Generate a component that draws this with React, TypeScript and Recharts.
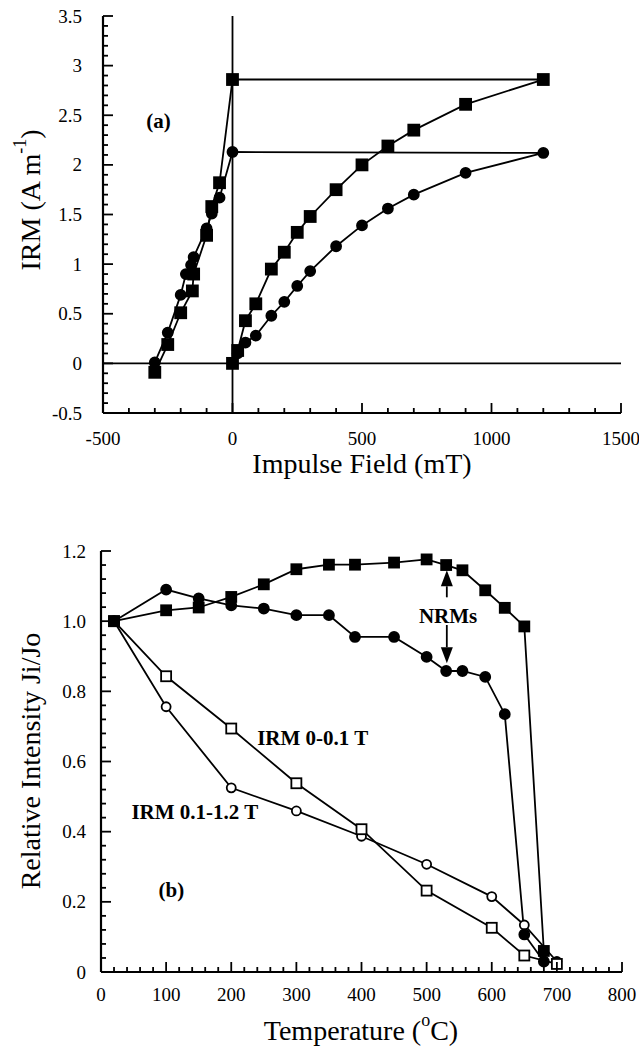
import React from 'react';
import { LineChart, Line, XAxis, YAxis, ReferenceLine, ReferenceDot } from 'recharts';

const FONT = '"Liberation Serif", "Times New Roman", Times, serif';

// (a) IRM acquisition then backfield, squares and circles
const fieldSq = [0, 20, 50, 90, 150, 200, 250, 300, 400, 500, 600, 700, 900, 1200, 0, -50, -80, -100, -150, -155, -200, -250, -300];
const irmSq = [0, 0.13, 0.43, 0.6, 0.95, 1.12, 1.32, 1.48, 1.75, 2.0, 2.19, 2.35, 2.61, 2.86, 2.86, 1.82, 1.58, 1.29, 0.9, 0.73, 0.51, 0.19, -0.09];
const fieldCirc = [0, 20, 50, 90, 150, 200, 250, 300, 400, 500, 600, 700, 900, 1200, 0, -50, -80, -100, -150, -160, -180, -200, -250, -300];
const irmCirc = [0, 0.1, 0.21, 0.28, 0.48, 0.62, 0.78, 0.93, 1.18, 1.39, 1.56, 1.7, 1.92, 2.12, 2.13, 1.67, 1.51, 1.36, 1.07, 0.99, 0.9, 0.69, 0.31, 0.01];

// (b) thermal demagnetisation
const tempNrmSq = [20, 100, 150, 200, 250, 300, 350, 390, 450, 500, 530, 555, 590, 620, 650, 680];
const nrmSq = [1.0, 1.031, 1.039, 1.069, 1.105, 1.148, 1.161, 1.161, 1.167, 1.176, 1.16, 1.145, 1.088, 1.038, 0.985, 0.06];
const tempNrmCirc = [20, 100, 150, 200, 250, 300, 350, 390, 450, 500, 530, 555, 590, 620, 650, 680];
const nrmCirc = [1.0, 1.09, 1.065, 1.045, 1.036, 1.017, 1.017, 0.955, 0.955, 0.898, 0.858, 0.858, 0.841, 0.735, 0.107, 0.03];
const tempIrm = [20, 100, 200, 300, 400, 500, 600, 650, 700];
const irmLow = [1.0, 0.843, 0.694, 0.538, 0.407, 0.232, 0.126, 0.047, 0.023];
const irmHigh = [1.0, 0.756, 0.525, 0.459, 0.387, 0.307, 0.215, 0.134, 0.03];

// tick labels
const xMajorA = [-500, 0, 500, 1000, 1500];
const xLabelsA = ['-500', '0', '500', '1000', '1500'];
const yMajorA = [-0.5, 0, 0.5, 1, 1.5, 2, 2.5, 3, 3.5];
const yLabelsA = ['-0.5', '0', '0.5', '1', '1.5', '2', '2.5', '3', '3.5'];
const xMajorB = [0, 100, 200, 300, 400, 500, 600, 700, 800];
const xLabelsB = ['0', '100', '200', '300', '400', '500', '600', '700', '800'];
const yMajorB = [0, 0.2, 0.4, 0.6, 0.8, 1.0, 1.2];
const yLabelsB = ['0', '0.2', '0.4', '0.6', '0.8', '1.0', '1.2'];

const zip = (xs: number[], ys: number[]) => xs.map((x, i) => ({ x, y: ys[i] }));

function steps(from: number, to: number, step: number) {
  const out: number[] = [];
  const n = Math.round((to - from) / step);
  for (let i = 0; i <= n; i++) out.push(+(from + i * step).toFixed(4));
  return out;
}

const serif = { fontFamily: FONT };
const LW = 1.8;

function AxisTick(props: any) {
  const { x, y, payload, side, majors, labels, gap } = props;
  const v = payload.value;
  const mi = majors.findIndex((m: number) => Math.abs(m - v) < 1e-6);
  const len = mi >= 0 ? 10 : 5;
  let x2 = x;
  let y2 = y;
  if (side === 'bottom') y2 = y - len;
  else if (side === 'top') y2 = y + len;
  else if (side === 'left') x2 = x + len;
  else x2 = x - len;
  let label = null;
  if (labels && mi >= 0) {
    label =
      side === 'bottom' ? (
        <text x={x} y={y + gap} textAnchor="middle" dominantBaseline="central" style={serif} fontSize={19} fill="#000">
          {labels[mi]}
        </text>
      ) : (
        <text x={x - gap} y={y} textAnchor="end" dominantBaseline="central" style={serif} fontSize={19} fill="#000">
          {labels[mi]}
        </text>
      );
  }
  return (
    <g>
      <line x1={x} y1={y} x2={x2} y2={y2} stroke="#000" strokeWidth={1.8} />
      {label}
    </g>
  );
}

function Title(props: any) {
  const { px, py, rotate, caption, sup, after } = props;
  return (
    <text
      x={px}
      y={py}
      transform={rotate ? `rotate(-90 ${px} ${py})` : undefined}
      textAnchor="middle"
      dominantBaseline="central"
      style={serif}
      fontSize={28}
      fill="#000"
    >
      {caption}
      {sup && (
        <tspan dy={-10} fontSize={18}>
          {sup}
        </tspan>
      )}
      {after && <tspan dy={sup ? 10 : 0}>{after}</tspan>}
    </text>
  );
}

const squareDot = (filled: boolean, size: number) => (p: any) => (
  <rect
    key={`s${p.index}`}
    x={p.cx - size / 2}
    y={p.cy - size / 2}
    width={size}
    height={size}
    fill={filled ? '#000' : '#fff'}
    stroke="#000"
    strokeWidth={LW}
  />
);

const circleDot = (filled: boolean, r: number) => (p: any) => (
  <circle key={`c${p.index}`} cx={p.cx} cy={p.cy} r={r} fill={filled ? '#000' : '#fff'} stroke="#000" strokeWidth={LW} />
);

const textShape = (text: string) => (p: any) => (
  <text x={p.cx} y={p.cy} textAnchor="middle" dominantBaseline="central" style={serif} fontWeight="bold" fontSize={21} fill="#000">
    {text}
  </text>
);

const arrowShape = (p: any) => {
  const { x1, y1, x2, y2 } = p;
  const dir = y2 > y1 ? 1 : -1;
  const head = 16;
  return (
    <g>
      <line x1={x1} y1={y1} x2={x2} y2={y2 - dir * head} stroke="#000" strokeWidth={LW} />
      <polygon points={`${x2},${y2} ${x2 - 6},${y2 - dir * head} ${x2 + 6},${y2 - dir * head}`} fill="#000" />
    </g>
  );
};

const frame = { stroke: '#000', strokeWidth: 2.2 };

export default function App() {
  const xTicksA = steps(-500, 1500, 100);
  const yTicksA = steps(-0.5, 3.5, 0.1);
  const xTicksB = steps(0, 800, 20);
  const yTicksB = steps(0, 1.2, 0.04);

  return (
    <div style={{ position: 'absolute', left: 0, top: 0, width: 639, height: 1051, background: '#fff', fontFamily: FONT }}>
      <div style={{ position: 'absolute', left: 0, top: 0 }}>
        <LineChart width={639} height={480} margin={{ top: 16, right: 18, bottom: 0, left: 0 }} style={serif}>
          <XAxis
            type="number"
            dataKey="x"
            domain={[-500, 1500]}
            ticks={xTicksA}
            interval={0}
            height={67}
            tickSize={0}
            tickMargin={0}
            tickLine={false}
            axisLine={frame}
            allowDataOverflow
            tick={<AxisTick side="bottom" majors={xMajorA} labels={xLabelsA} gap={25} />}
            label={<Title px={362} py={463} caption="Impulse Field (mT)" />}
          />
          <XAxis
            xAxisId="top"
            orientation="top"
            type="number"
            domain={[-500, 1500]}
            ticks={xTicksA}
            interval={0}
            height={0}
            tickSize={0}
            tickMargin={0}
            tickLine={false}
            axisLine={frame}
            allowDataOverflow
            tick={<AxisTick side="top" majors={xMajorA} />}
          />
          <YAxis
            type="number"
            domain={[-0.5, 3.5]}
            ticks={yTicksA}
            interval={0}
            width={103}
            tickSize={0}
            tickMargin={0}
            tickLine={false}
            axisLine={frame}
            allowDataOverflow
            tick={<AxisTick side="left" majors={yMajorA} labels={yLabelsA} gap={21} />}
            label={<Title px={30} py={200} rotate caption="IRM (A m" sup="-1" after=")" />}
          />
          <YAxis
            yAxisId="right"
            orientation="right"
            type="number"
            domain={[-0.5, 3.5]}
            ticks={yTicksA}
            interval={0}
            width={0}
            tickSize={0}
            tickMargin={0}
            tickLine={false}
            axisLine={frame}
            allowDataOverflow
            tick={<AxisTick side="right" majors={yMajorA} />}
          />
          <ReferenceLine x={0} stroke="#000" strokeWidth={LW} />
          <ReferenceLine y={0} stroke="#000" strokeWidth={LW} />
          <Line
            data={zip(fieldCirc, irmCirc)}
            dataKey="y"
            type="linear"
            stroke="#000"
            strokeWidth={LW}
            dot={circleDot(true, 5)}
            activeDot={false}
            isAnimationActive={false}
          />
          <Line
            data={zip(fieldSq, irmSq)}
            dataKey="y"
            type="linear"
            stroke="#000"
            strokeWidth={LW}
            dot={squareDot(true, 11)}
            activeDot={false}
            isAnimationActive={false}
          />
          <ReferenceDot x={-286} y={2.44} r={0} shape={textShape('(a)')} />
        </LineChart>
      </div>

      <div style={{ position: 'absolute', left: 0, top: 500 }}>
        <LineChart width={639} height={551} margin={{ top: 51, right: 17, bottom: 0, left: 0 }} style={serif}>
          <XAxis
            type="number"
            dataKey="x"
            domain={[0, 800]}
            ticks={xTicksB}
            interval={0}
            height={79}
            tickSize={0}
            tickMargin={0}
            tickLine={false}
            axisLine={frame}
            allowDataOverflow
            tick={<AxisTick side="bottom" majors={xMajorB} labels={xLabelsB} gap={22} />}
            label={<Title px={361} py={530} caption="Temperature (" sup="o" after="C)" />}
          />
          <XAxis
            xAxisId="top"
            orientation="top"
            type="number"
            domain={[0, 800]}
            ticks={xTicksB}
            interval={0}
            height={0}
            tickSize={0}
            tickMargin={0}
            tickLine={false}
            axisLine={frame}
            allowDataOverflow
            tick={<AxisTick side="top" majors={xMajorB} />}
          />
          <YAxis
            type="number"
            domain={[0, 1.2]}
            ticks={yTicksB}
            interval={0}
            width={101}
            tickSize={0}
            tickMargin={0}
            tickLine={false}
            axisLine={frame}
            allowDataOverflow
            tick={<AxisTick side="left" majors={yMajorB} labels={yLabelsB} gap={15} />}
            label={<Title px={30} py={261} rotate caption="Relative Intensity Ji/Jo" />}
          />
          <YAxis
            yAxisId="right"
            orientation="right"
            type="number"
            domain={[0, 1.2]}
            ticks={yTicksB}
            interval={0}
            width={0}
            tickSize={0}
            tickMargin={0}
            tickLine={false}
            axisLine={frame}
            allowDataOverflow
            tick={<AxisTick side="right" majors={yMajorB} />}
          />
          <Line
            data={zip(tempIrm, irmHigh)}
            dataKey="y"
            type="linear"
            stroke="#000"
            strokeWidth={LW}
            dot={circleDot(false, 4.5)}
            activeDot={false}
            isAnimationActive={false}
          />
          <Line
            data={zip(tempIrm, irmLow)}
            dataKey="y"
            type="linear"
            stroke="#000"
            strokeWidth={LW}
            dot={squareDot(false, 10)}
            activeDot={false}
            isAnimationActive={false}
          />
          <Line
            data={zip(tempNrmCirc, nrmCirc)}
            dataKey="y"
            type="linear"
            stroke="#000"
            strokeWidth={LW}
            dot={circleDot(true, 5)}
            activeDot={false}
            isAnimationActive={false}
          />
          <Line
            data={zip(tempNrmSq, nrmSq)}
            dataKey="y"
            type="linear"
            stroke="#000"
            strokeWidth={LW}
            dot={squareDot(true, 10)}
            activeDot={false}
            isAnimationActive={false}
          />
          <ReferenceLine segment={[{ x: 531, y: 1.068 }, { x: 531, y: 1.145 }]} shape={arrowShape} />
          <ReferenceLine segment={[{ x: 531, y: 0.989 }, { x: 531, y: 0.88 }]} shape={arrowShape} />
          <ReferenceDot x={533} y={1.014} r={0} shape={textShape('NRMs')} />
          <ReferenceDot x={325} y={0.667} r={0} shape={textShape('IRM 0-0.1 T')} />
          <ReferenceDot x={144} y={0.455} r={0} shape={textShape('IRM 0.1-1.2 T')} />
          <ReferenceDot x={108} y={0.234} r={0} shape={textShape('(b)')} />
        </LineChart>
      </div>
    </div>
  );
}
